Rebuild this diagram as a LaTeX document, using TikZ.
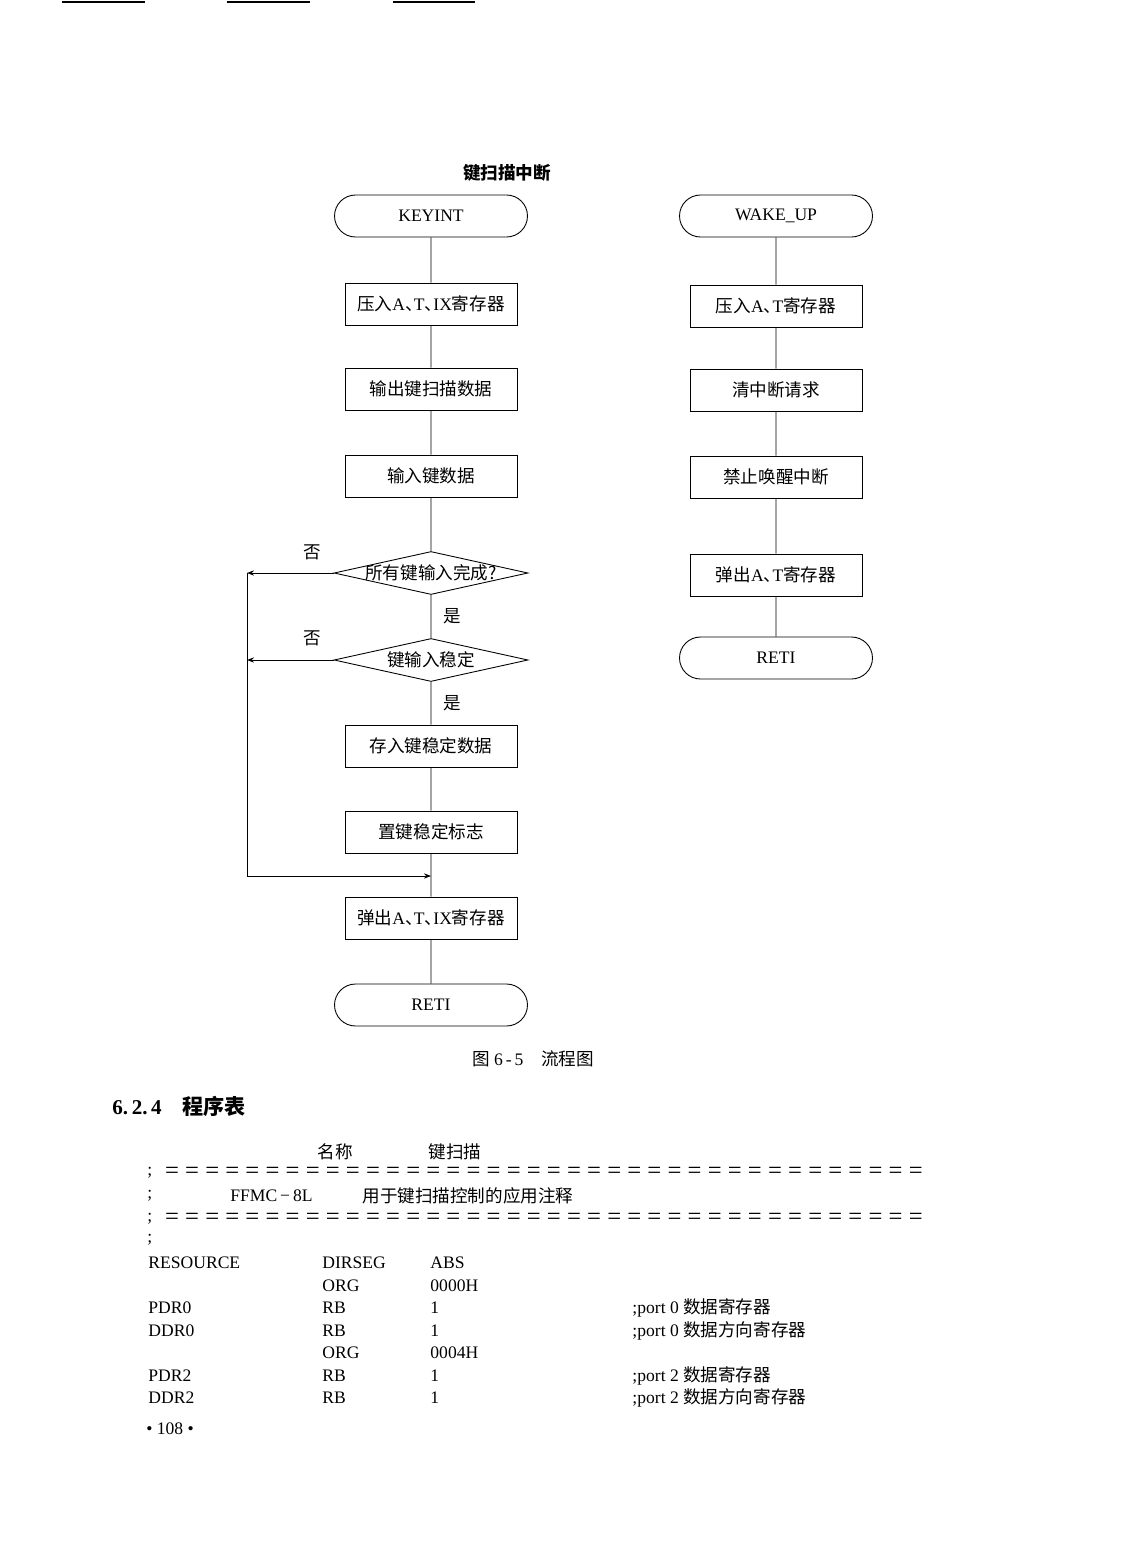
\documentclass[tikz,border=0pt]{standalone}
\usepackage{fontspec}
\setmainfont{Liberation Serif}
\newfontfamily\cjk{Noto Sans CJK SC}
\usetikzlibrary{shapes.geometric,shapes.misc,arrows.meta}
\newcommand{\zh}[1]{{\cjk #1}}
\newcommand{\dun}{\makebox[0.5em][l]{\cjk 、}}
\tikzset{
  every node/.style={font=\fontsize{10}{12}\selectfont, inner sep=0pt},
  term/.style={draw, rounded rectangle, minimum width=3.86cm, minimum height=0.84cm},
  proc/.style={draw, rectangle, minimum width=3.44cm, minimum height=0.84cm},
  decide/.style={draw, diamond, minimum width=3.88cm, minimum height=0.86cm},
  back/.style={-{Stealth[length=4pt,width=3pt]}},
  lst/.style={anchor=west},
  rule/.style={font=\fontsize{14}{14}\selectfont},
}
\begin{document}
\begin{tikzpicture}[x=0.02cm,y=-0.02cm,line width=0.5pt]
  \useasboundingbox (0,0) rectangle (1122,1568);
  % rules left over from the page above
  \foreach \a/\b in {62/145,227/310,393/475}
    \draw[line width=1.1pt] (\a,2) -- (\b,2);

  % key scan interrupt
  \node[font=\fontsize{10}{12}\selectfont\bfseries] (title) at (507,173) {\zh{键扫描中断}};
  \node[term] (keyint) at (431,216) {KEYINT};
  \node[proc] (pushL) at (431,304) {\zh{压入}A\dun T\dun IX\zh{寄存器}};
  \node[proc] (outdat) at (431,389) {\zh{输出键扫描数据}};
  \node[proc] (indat) at (431,476) {\zh{输入键数据}};
  \node[decide] (alldone) at (431,573) {\makebox[0pt]{\zh{所有键输入完成?}}};
  \node[decide] (stable) at (431,660) {\makebox[0pt]{\zh{键输入稳定}}};
  \node[proc] (store) at (431,746) {\zh{存入键稳定数据}};
  \node[proc] (flag) at (431,832) {\zh{置键稳定标志}};
  \node[proc] (popL) at (431,918) {\zh{弹出}A\dun T\dun IX\zh{寄存器}};
  \node[term] (retiL) at (431,1005) {RETI};
  \node (no1) at (312,552) {\zh{否}};
  \node (yes1) at (452,616) {\zh{是}};
  \node (no2) at (312,638) {\zh{否}};
  \node (yes2) at (452,703) {\zh{是}};
  \draw (keyint) -- (pushL) -- (outdat) -- (indat) -- (alldone) -- (stable)
        -- (store) -- (flag) -- (popL) -- (retiL);
  \coordinate (rail) at (247,876);
  \draw[back] (alldone.west) -- (alldone.west -| rail);
  \draw[back] (stable.west) -- (stable.west -| rail);
  \draw[back] (alldone.west -| rail) -- (rail) -- (rail -| popL.north);

  % wake-up interrupt
  \node[term] (wake) at (776,216) {WAKE\_UP};
  \node[proc] (pushR) at (776,306) {\zh{压入}A\dun T\zh{寄存器}};
  \node[proc] (clrreq) at (776,390) {\zh{清中断请求}};
  \node[proc] (nowake) at (776,477) {\zh{禁止唤醒中断}};
  \node[proc] (popR) at (776,575) {\zh{弹出}A\dun T\zh{寄存器}};
  \node[term] (retiR) at (776,658) {RETI};
  \draw (wake) -- (pushR) -- (clrreq) -- (nowake) -- (popR) -- (retiR);

  \node (caption) at (533,1059) {\zh{图}\ 6\,-\,5\quad\zh{流程图}};

  % program listing
  \node[lst, font=\fontsize{12}{14}\selectfont\bfseries] (head) at (112,1106) {6.\,2.\,4\quad\zh{程序表}};
  \node (namelbl) at (335,1152) {\zh{名称}};
  \node (nameval) at (455,1152) {\zh{键扫描}};
  \foreach \r in {1173,1219} {
    \node[lst] (semi\r) at (147,\r) {;};
    \foreach \i in {0,...,37}
      \node[rule] (eq\r-\i) at ({172+\i*20.1},\r) {=};
  }
  \node[lst] (semic) at (147,1196) {;};
  \node[lst] (chip) at (230,1196) {FFMC\,−\,8L};
  \node[lst] (note) at (362,1196) {\zh{用于键扫描控制的应用注释}};
  \node[lst] (semid) at (147,1240) {;};
  \foreach \y/\lab/\op/\arg/\rem in {
      1263/RESOURCE/DIRSEG/ABS/,
      1286//ORG/0000H/,
      1308/PDR0/RB/1/;port 0 \zh{数据寄存器},
      1331/DDR0/RB/1/;port 0 \zh{数据方向寄存器},
      1353//ORG/0004H/,
      1376/PDR2/RB/1/;port 2 \zh{数据寄存器},
      1398/DDR2/RB/1/;port 2 \zh{数据方向寄存器}} {
    \node[lst] (lab\y) at (148,\y) {\lab};
    \node[lst] (op\y) at (322,\y) {\op};
    \node[lst] (arg\y) at (430,\y) {\arg};
    \node[lst] (rem\y) at (632,\y) {\rem};
  }
  \node (page) at (170,1429) {\textbullet\ 108\ \textbullet};
\end{tikzpicture}
\end{document}
